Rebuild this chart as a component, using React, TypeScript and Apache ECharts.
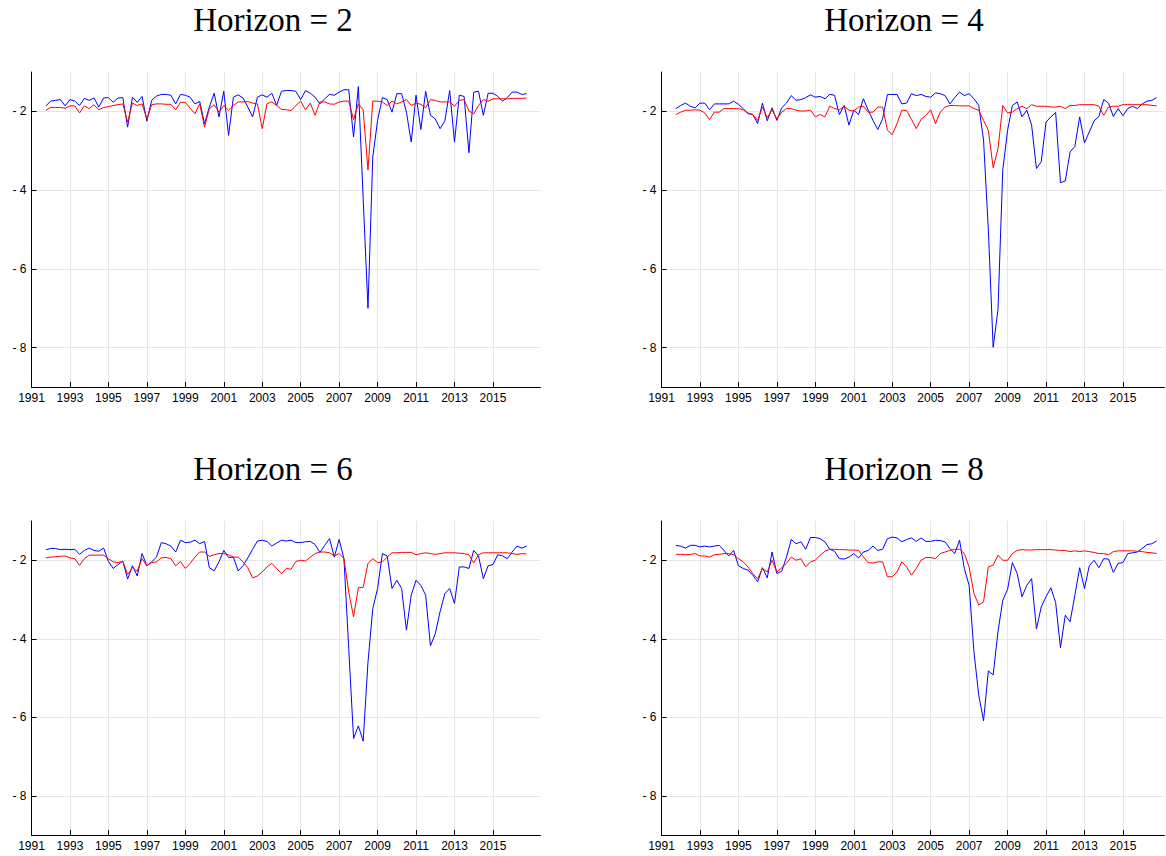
import React, { useEffect, useRef } from "react";
import * as echarts from "echarts";

// Quarterly observation dates (decimal years), 1991Q4 .. 2016Q4
const quarterTimes: number[] = Array.from({ length: 101 }, (_, i) => 1991.75 + 0.25 * i);

const horizons = [2, 4, 6, 8];
const xTickYears = [1991, 1993, 1995, 1997, 1999, 2001, 2003, 2005, 2007, 2009, 2011, 2013, 2015];
const yTickValues = [-8, -6, -4, -2];

// Horizon = 2
const h2Blue = [
  -1.86,
  -1.74, -1.72, -1.70, -1.86,
  -1.70, -1.74, -1.85, -1.67,
  -1.72, -1.66, -1.89, -1.66,
  -1.65, -1.77, -1.66, -1.65,
  -2.40, -1.64, -1.77, -1.62,
  -2.25, -1.72, -1.61, -1.57,
  -1.57, -1.59, -1.81, -1.57,
  -1.59, -1.64, -1.81, -1.75,
  -2.31, -1.89, -1.54, -2.14,
  -1.49, -2.61, -1.64, -1.58,
  -1.66, -1.89, -2.14, -1.64,
  -1.58, -1.64, -1.54, -1.85,
  -1.49, -1.47, -1.47, -1.49,
  -1.70, -1.47, -1.54, -1.64,
  -1.81, -1.68, -1.57, -1.59,
  -1.51, -1.45, -1.45, -2.65,
  -1.37, -4.20, -7.00, -3.16,
  -2.23, -1.65, -1.70, -2.02,
  -1.55, -1.55, -2.02, -2.78,
  -1.59, -2.46, -1.49, -2.10,
  -2.19, -2.44, -2.24, -1.47,
  -2.78, -1.59, -1.62, -3.05,
  -1.51, -1.49, -2.10, -1.54,
  -1.54, -1.62, -1.74, -1.65,
  -1.51, -1.51, -1.57, -1.55,
];
const h2Red = [
  -1.97,
  -1.90, -1.90, -1.90, -1.92,
  -1.86, -1.86, -2.04, -1.86,
  -1.93, -1.83, -1.96, -1.90,
  -1.88, -1.85, -1.83, -1.81,
  -2.27, -1.79, -1.85, -1.81,
  -2.19, -1.83, -1.81, -1.81,
  -1.82, -1.82, -1.96, -1.77,
  -1.77, -1.92, -2.06, -1.81,
  -2.40, -1.93, -1.83, -2.02,
  -1.85, -1.97, -1.85, -1.76,
  -1.76, -1.75, -1.79, -1.81,
  -2.44, -1.80, -1.76, -1.85,
  -1.95, -1.96, -1.98, -1.85,
  -1.74, -1.96, -1.79, -2.10,
  -1.76, -1.76, -1.81, -1.82,
  -1.76, -1.74, -1.74, -2.21,
  -1.81, -1.96, -3.49, -1.74,
  -1.74, -1.76, -1.85, -1.74,
  -1.81, -1.76, -1.70, -1.85,
  -1.79, -1.82, -1.91, -1.70,
  -1.72, -1.76, -1.76, -1.76,
  -1.87, -1.72, -1.70, -1.99,
  -2.06, -1.85, -1.70, -1.74,
  -1.68, -1.68, -1.68, -1.68,
  -1.67, -1.67, -1.67, -1.66,
];

// Horizon = 4
const h4Blue = [
  -1.93,
  -1.85, -1.79, -1.87, -1.91,
  -1.79, -1.79, -1.96, -1.81,
  -1.81, -1.81, -1.81, -1.74,
  -1.82, -1.93, -2.06, -2.08,
  -2.31, -1.79, -2.24, -1.91,
  -2.23, -1.91, -1.79, -1.60,
  -1.72, -1.70, -1.65, -1.58,
  -1.64, -1.62, -1.68, -1.57,
  -1.59, -2.08, -1.85, -2.35,
  -1.97, -2.08, -1.68, -1.97,
  -2.23, -2.46, -2.19, -1.57,
  -1.57, -1.57, -1.81, -1.79,
  -1.55, -1.60, -1.57, -1.62,
  -1.64, -1.53, -1.55, -1.60,
  -1.81, -1.65, -1.51, -1.60,
  -1.55, -1.68, -1.85, -2.73,
  -5.01, -7.99, -7.04, -3.49,
  -2.48, -1.85, -1.76, -2.14,
  -1.97, -2.35, -3.45, -3.28,
  -2.27, -2.14, -2.03, -3.81,
  -3.77, -3.03, -2.89, -2.14,
  -2.80, -2.52, -2.24, -2.13,
  -1.70, -1.79, -2.13, -1.93,
  -2.11, -1.93, -1.87, -1.93,
  -1.81, -1.74, -1.72, -1.65,
];
const h4Red = [
  -2.08,
  -2.02, -1.97, -1.97, -1.96,
  -1.97, -2.04, -2.21, -2.02,
  -2.02, -1.93, -1.93, -1.93,
  -1.93, -1.96, -2.04, -2.08,
  -2.23, -1.89, -2.16, -1.96,
  -2.19, -2.02, -1.93, -1.93,
  -1.97, -1.99, -1.99, -1.97,
  -2.14, -2.08, -2.14, -1.87,
  -1.93, -1.96, -1.87, -1.97,
  -1.99, -1.89, -1.87, -2.02,
  -2.02, -1.89, -1.89, -2.48,
  -2.59, -2.31, -1.97, -1.98,
  -2.20, -2.44, -2.20, -2.10,
  -1.96, -2.31, -2.02, -1.89,
  -1.85, -1.85, -1.86, -1.86,
  -1.86, -1.93, -1.97, -2.23,
  -2.48, -3.43, -2.95, -1.85,
  -2.04, -2.02, -1.93, -1.87,
  -1.93, -1.83, -1.87, -1.87,
  -1.87, -1.89, -1.89, -1.87,
  -1.93, -1.85, -1.85, -1.83,
  -1.83, -1.83, -1.83, -1.87,
  -2.10, -1.89, -1.87, -1.87,
  -1.83, -1.83, -1.83, -1.83,
  -1.83, -1.83, -1.85, -1.86,
];

// Horizon = 6
const h6Blue = [
  -1.73,
  -1.70, -1.70, -1.73, -1.72,
  -1.73, -1.72, -1.85, -1.75,
  -1.69, -1.75, -1.77, -1.69,
  -2.03, -2.21, -2.11, -2.02,
  -2.48, -2.14, -2.40, -1.83,
  -2.14, -2.04, -1.92, -1.55,
  -1.58, -1.64, -1.79, -1.49,
  -1.55, -1.54, -1.49, -1.58,
  -1.52, -2.19, -2.27, -2.04,
  -1.75, -1.93, -1.92, -2.27,
  -2.14, -1.94, -1.72, -1.51,
  -1.49, -1.52, -1.64, -1.56,
  -1.49, -1.51, -1.49, -1.55,
  -1.55, -1.53, -1.52, -1.60,
  -1.80, -1.62, -1.45, -1.92,
  -1.47, -1.96, -4.25, -6.54,
  -6.22, -6.61, -4.60, -3.23,
  -2.72, -1.83, -1.89, -2.72,
  -2.51, -2.72, -3.78, -2.89,
  -2.51, -2.64, -2.89, -4.18,
  -3.87, -3.31, -2.85, -2.72,
  -3.10, -2.17, -2.17, -2.21,
  -1.75, -1.89, -2.47, -2.14,
  -2.11, -1.86, -1.89, -1.96,
  -1.79, -1.64, -1.69, -1.64,
];
const h6Red = [
  -1.94,
  -1.92, -1.91, -1.90, -1.89,
  -1.94, -1.96, -2.13, -1.96,
  -1.87, -1.87, -1.87, -1.87,
  -1.96, -2.04, -2.06, -2.03,
  -2.36, -2.19, -2.28, -1.96,
  -2.14, -2.06, -2.04, -1.94,
  -1.93, -1.96, -2.14, -2.03,
  -2.21, -2.08, -1.92, -1.79,
  -1.79, -1.90, -1.86, -1.83,
  -1.83, -1.86, -1.92, -1.92,
  -2.04, -2.19, -2.45, -2.40,
  -2.30, -2.17, -2.08, -2.21,
  -2.34, -2.21, -2.23, -2.03,
  -2.00, -2.02, -1.92, -1.83,
  -1.79, -1.79, -1.81, -1.89,
  -1.83, -1.96, -2.81, -3.44,
  -2.70, -2.69, -2.08, -1.96,
  -2.06, -2.04, -1.92, -1.81,
  -1.81, -1.80, -1.80, -1.80,
  -1.86, -1.83, -1.81, -1.83,
  -1.85, -1.83, -1.81, -1.81,
  -1.81, -1.82, -1.83, -1.86,
  -2.07, -1.86, -1.81, -1.81,
  -1.81, -1.81, -1.81, -1.81,
  -1.83, -1.85, -1.83, -1.84,
];

// Horizon = 8
const h8Blue = [
  -1.62,
  -1.64, -1.69, -1.62, -1.62,
  -1.66, -1.64, -1.66, -1.64,
  -1.62, -1.75, -1.89, -1.75,
  -2.14, -2.21, -2.25, -2.38,
  -2.55, -2.19, -2.45, -1.79,
  -2.34, -2.28, -1.92, -1.47,
  -1.58, -1.53, -1.72, -1.42,
  -1.42, -1.45, -1.53, -1.72,
  -1.77, -1.96, -1.97, -1.92,
  -1.83, -1.94, -1.79, -1.75,
  -1.64, -1.75, -1.72, -1.45,
  -1.41, -1.43, -1.53, -1.47,
  -1.43, -1.52, -1.43, -1.52,
  -1.52, -1.49, -1.50, -1.53,
  -1.70, -1.83, -1.49, -2.21,
  -2.64, -4.33, -5.44, -6.09,
  -4.82, -4.92, -3.82, -3.02,
  -2.74, -2.06, -2.34, -2.93,
  -2.64, -2.47, -3.75, -3.19,
  -2.93, -2.70, -3.08, -4.23,
  -3.40, -3.57, -2.89, -2.19,
  -2.72, -2.14, -2.00, -2.19,
  -1.96, -1.97, -2.31, -2.08,
  -2.06, -1.83, -1.81, -1.79,
  -1.70, -1.60, -1.58, -1.51,
];
const h8Red = [
  -1.85,
  -1.85, -1.86, -1.85, -1.83,
  -1.89, -1.89, -1.92, -1.86,
  -1.85, -1.83, -1.83, -1.86,
  -1.96, -2.04, -2.17, -2.34,
  -2.47, -2.21, -2.30, -2.00,
  -2.30, -2.19, -2.08, -1.92,
  -2.00, -1.96, -2.17, -2.04,
  -2.00, -1.87, -1.77, -1.72,
  -1.72, -1.73, -1.73, -1.74,
  -1.74, -1.75, -1.92, -2.06,
  -2.07, -2.04, -2.04, -2.42,
  -2.42, -2.30, -2.04, -2.17,
  -2.38, -2.21, -2.00, -1.93,
  -1.93, -1.96, -1.83, -1.79,
  -1.75, -1.72, -1.72, -1.83,
  -2.17, -2.85, -3.14, -3.06,
  -2.17, -2.13, -1.87, -2.00,
  -2.00, -1.83, -1.75, -1.73,
  -1.74, -1.74, -1.73, -1.73,
  -1.73, -1.73, -1.74, -1.75,
  -1.75, -1.78, -1.76, -1.78,
  -1.76, -1.78, -1.80, -1.83,
  -1.83, -1.86, -1.78, -1.76,
  -1.76, -1.76, -1.76, -1.77,
  -1.78, -1.80, -1.81, -1.83,
];

const blueSeries = [h2Blue, h4Blue, h6Blue, h8Blue];
const redSeries = [h2Red, h4Red, h6Red, h8Red];

const PX_PER_YEAR = 19.227;
const panels = [
  { left: 31.5, top: 72, width: 509, height: 315, cx: 273, ty: 20 },
  { left: 661.5, top: 72, width: 503, height: 315, cx: 904, ty: 20 },
  { left: 31.5, top: 521, width: 509, height: 314, cx: 273, ty: 469 },
  { left: 661.5, top: 521, width: 503, height: 314, cx: 904, ty: 469 },
];

const GRID_COLOR = "#e6e6e6";
const AXIS_COLOR = "#000000";
const LABEL_FONT = "'Liberation Sans', Arial, sans-serif";

function buildOption() {
  const grid: any[] = [];
  const xAxis: any[] = [];
  const yAxis: any[] = [];
  const series: any[] = [];
  const graphic: any[] = [];

  panels.forEach((p, k) => {
    grid.push({ left: p.left, top: p.top, width: p.width, height: p.height, containLabel: false });
    xAxis.push({
      type: "value",
      gridIndex: k,
      min: 1991,
      max: 1991 + p.width / PX_PER_YEAR,
      axisLine: { show: true, onZero: false, lineStyle: { color: AXIS_COLOR, width: 1 } },
      axisTick: {
        show: true,
        inside: true,
        length: 5,
        customValues: xTickYears,
        lineStyle: { color: AXIS_COLOR, width: 1 },
      },
      axisLabel: {
        show: true,
        customValues: xTickYears,
        margin: 5,
        color: "#000",
        fontFamily: LABEL_FONT,
        fontSize: 12,
        formatter: (v: number) => String(Math.round(v)),
        hideOverlap: false,
      },
      splitLine: {
        show: true,
        customValues: xTickYears,
        lineStyle: { color: GRID_COLOR, width: 1 },
      },
    });
    yAxis.push({
      type: "value",
      gridIndex: k,
      min: -9,
      max: -1,
      axisLine: { show: true, onZero: false, lineStyle: { color: AXIS_COLOR, width: 1 } },
      axisTick: {
        show: true,
        inside: true,
        length: 5,
        customValues: yTickValues,
        lineStyle: { color: AXIS_COLOR, width: 1 },
      },
      axisLabel: {
        show: true,
        customValues: yTickValues,
        margin: 5,
        color: "#000",
        fontFamily: LABEL_FONT,
        fontSize: 12,
        formatter: (v: number) => (v < 0 ? "- " + Math.abs(v) : String(v)),
      },
      splitLine: {
        show: true,
        customValues: yTickValues,
        lineStyle: { color: GRID_COLOR, width: 1 },
      },
    });
    series.push({
      type: "line",
      name: "blue" + horizons[k],
      xAxisIndex: k,
      yAxisIndex: k,
      data: quarterTimes.map((t, i) => [t, blueSeries[k][i]]),
      showSymbol: false,
      symbol: "none",
      lineStyle: { color: "#0000ff", width: 1 },
      itemStyle: { color: "#0000ff" },
      z: 2,
    });
    series.push({
      type: "line",
      name: "red" + horizons[k],
      xAxisIndex: k,
      yAxisIndex: k,
      data: quarterTimes.map((t, i) => [t, redSeries[k][i]]),
      showSymbol: false,
      symbol: "none",
      lineStyle: { color: "#ff0000", width: 1 },
      itemStyle: { color: "#ff0000" },
      z: 3,
    });
    graphic.push({
      type: "text",
      x: p.cx,
      y: p.ty,
      style: {
        text: "Horizon = " + horizons[k],
        fill: "#000",
        font: "33px 'Liberation Serif', 'DejaVu Serif', serif",
        align: "center",
        verticalAlign: "middle",
      },
    });
  });

  return {
    animation: false,
    backgroundColor: "#ffffff",
    grid,
    xAxis,
    yAxis,
    series,
    graphic,
  };
}

export default function App() {
  const ref = useRef<HTMLDivElement>(null);
  useEffect(() => {
    document.body.style.margin = "0";
    if (!ref.current) return;
    const chart = echarts.init(ref.current, undefined, { renderer: "svg" });
    chart.setOption(buildOption() as any);
    return () => {
      chart.dispose();
    };
  }, []);
  return <div ref={ref} style={{ width: 1166, height: 856, background: "#fff" }} />;
}
